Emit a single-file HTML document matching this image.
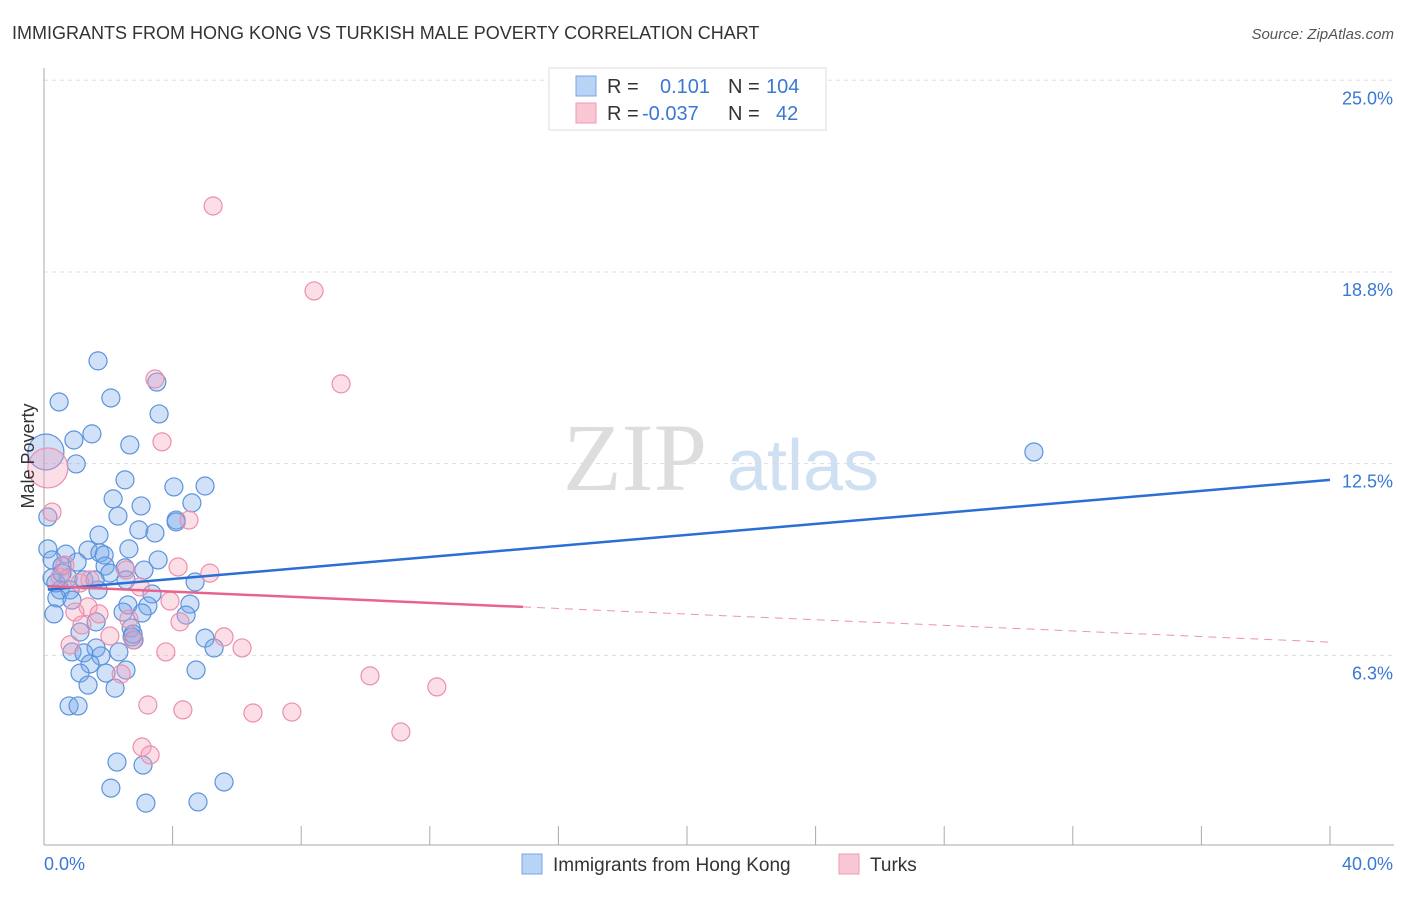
<!DOCTYPE html>
<html><head><meta charset="utf-8"><style>
body{margin:0;background:#fff;font-family:"Liberation Sans",sans-serif}
</style></head><body>
<svg width="1406" height="892" xmlns="http://www.w3.org/2000/svg" font-family="Liberation Sans, sans-serif">
<text x="12" y="39" font-size="18" fill="#333">IMMIGRANTS FROM HONG KONG VS TURKISH MALE POVERTY CORRELATION CHART</text>
<text x="1394" y="39" font-size="15" fill="#555" text-anchor="end" font-style="italic">Source: ZipAtlas.com</text>
<g>
<text x="635" y="490" font-size="96" fill="#ddd" text-anchor="middle" font-family="Liberation Serif, serif">ZIP</text>
<text x="803" y="490" font-size="72" fill="#cfe0f3" text-anchor="middle">atlas</text>
</g>
<g id="grid"></g>
<g id="axes"></g>
<g id="marks"></g>
<g id="trends"></g>
<text transform="translate(34,456) rotate(-90)" font-size="18" fill="#333" text-anchor="middle">Male Poverty</text>
<g>
<rect x="549" y="68" width="277" height="62" fill="#fff" stroke="#ddd"/>
<rect x="576" y="76" width="20" height="20" fill="#b7d3f6" stroke="#7aa6e0"/>
<rect x="576" y="103" width="20" height="20" fill="#f9c6d4" stroke="#ee9ab3"/>
<text y="93" font-size="20" fill="#333"><tspan x="607">R =</tspan><tspan x="660" fill="#3a78d4">0.101</tspan><tspan x="728">N =</tspan><tspan x="766" fill="#3a78d4">104</tspan></text>
<text y="120" font-size="20" fill="#333"><tspan x="607">R =</tspan><tspan x="642" fill="#3a78d4">-0.037</tspan><tspan x="728">N =</tspan><tspan x="776" fill="#3a78d4">42</tspan></text>
</g>
<g>
<rect x="522" y="854" width="20" height="20" fill="#b7d3f6" stroke="#7aa6e0"/>
<text x="553" y="871" font-size="19" fill="#333">Immigrants from Hong Kong</text>
<rect x="839" y="854" width="20" height="20" fill="#f9c6d4" stroke="#ee9ab3"/>
<text x="870" y="871" font-size="19" fill="#333">Turks</text>
</g>
</svg>
<script>
const yTicks=[6.25,12.5,18.75,25];
const yTickLabels=["6.3%","12.5%","18.8%","25.0%"];
const xTickLabels=["0.0%","40.0%"];
const blueX=[1.68,0.47,2.08,3.51,3.58,0.93,1.49,2.67,1.0,30.79,0.06,2.52,4.04,5.01,2.15,3.02,4.60,2.30,4.11,4.11,0.12,2.95,3.45,1.71,2.64,3.55,0.12,0.68,1.37,1.74,1.87,0.25,1.03,1.90,0.56,2.52,3.11,4.70,0.25,0.75,1.24,2.55,1.68,0.50,0.81,3.36,0.40,0.87,2.61,4.54,3.23,0.31,2.46,3.05,4.42,1.62,2.71,1.12,2.74,5.01,5.29,1.62,0.87,1.24,1.77,2.33,1.43,4.73,2.55,1.12,1.93,1.37,2.21,0.78,1.06,2.27,3.08,2.08,5.60,3.17,4.79,0.37,0.56,2.05,1.59,2.80,2.77];
const blueY=[15.85,14.51,14.64,15.16,14.12,13.27,13.47,13.11,12.49,12.88,12.88,11.97,11.74,11.77,11.35,11.12,11.22,10.79,10.66,10.60,10.76,10.34,10.24,10.17,9.72,9.36,9.72,9.55,9.68,9.59,9.52,9.36,9.29,9.16,9.16,9.10,9.03,8.64,8.77,8.77,8.71,8.71,8.38,8.38,8.38,8.25,8.12,8.05,7.89,7.92,7.86,7.60,7.66,7.63,7.56,7.34,7.14,7.01,6.85,6.81,6.49,6.49,6.36,6.33,6.23,6.36,5.97,5.77,5.77,5.67,5.67,5.28,5.18,4.60,4.60,2.77,2.67,1.92,2.12,1.43,1.47,8.61,8.93,8.93,8.71,6.75,6.94];
const pinkX=[5.26,8.40,9.24,3.45,3.67,0.12,0.25,4.51,4.17,5.16,2.55,1.43,1.12,0.50,0.65,2.99,3.92,1.37,1.71,0.96,4.23,2.64,2.05,2.77,5.60,6.16,0.81,1.18,3.79,10.14,12.22,3.23,4.32,6.50,7.71,11.10,3.05,3.30,2.40];
const pinkY=[20.90,18.13,15.10,15.26,13.21,12.36,10.92,10.66,9.13,8.93,9.03,8.71,8.61,8.80,9.19,8.48,8.02,7.83,7.60,7.66,7.34,7.43,6.88,6.75,6.85,6.49,6.59,7.24,6.36,5.58,5.22,4.63,4.47,4.37,4.40,3.75,3.26,3.00,5.64];
const blueTrend=[8.38,0.0898]; // intercept, slope
const pinkTrend=[8.51,-0.0458];
const pinkSolidEnd=14.9;
const NS="http://www.w3.org/2000/svg";
const X=v=>44+v*32.15, Y=v=>847-v*30.67;
function mk(tag,attrs,parent){const e=document.createElementNS(NS,tag);for(const k in attrs)e.setAttribute(k,attrs[k]);document.getElementById(parent).appendChild(e);return e;}
yTicks.forEach((t,i)=>{
 const l=mk('line',{x1:44,x2:1394,y1:Y(t),y2:Y(t),stroke:'#ddd','stroke-dasharray':'4,4'},'grid');
 
 
 const tx=mk('text',{x:1393,y:Y(t)+24,'font-size':18,fill:'#3a78d4','text-anchor':'end'},'grid');
 tx.textContent=yTickLabels[i];
 
 
});
let a=mk('line',{x1:44,x2:44,y1:68,y2:845,stroke:'#aaa'},'axes');


a=mk('line',{x1:44,x2:1394,y1:845,y2:845,stroke:'#aaa'},'axes');


for(let i=0;i<=10;i++){const t=mk('line',{x1:X(i*4),x2:X(i*4),y1:826,y2:845,stroke:'#aaa'},'axes');
 
 }
[[0,44,'start'],[40,1393,'end']].forEach((d,i)=>{const t=mk('text',{x:d[1],y:870,'font-size':18,fill:'#3a78d4','text-anchor':d[2]},'axes');t.textContent=xTickLabels[i];
 
 });
blueX.forEach((v,i)=>{const c=mk('circle',{cx:X(v),cy:Y(blueY[i]),r:i==10?18:9,fill:'rgba(120,170,235,0.35)',stroke:'#5b93dc','stroke-width':1.2},'marks');
 
 });
pinkX.forEach((v,i)=>{const c=mk('circle',{cx:X(v),cy:Y(pinkY[i]),r:i==5?20:9,fill:'rgba(245,160,185,0.35)',stroke:'#ec8fab','stroke-width':1.2},'marks');
 
 });
let t=mk('line',{x1:X(0.12),y1:Y(blueTrend[0]+blueTrend[1]*0.12),x2:X(40),y2:Y(blueTrend[0]+blueTrend[1]*40),stroke:'#2a6fd6','stroke-width':2.5},'trends');


t=mk('line',{x1:X(0.12),y1:Y(pinkTrend[0]+pinkTrend[1]*0.12),x2:X(pinkSolidEnd),y2:Y(pinkTrend[0]+pinkTrend[1]*pinkSolidEnd),stroke:'#e8648e','stroke-width':2.5},'trends');


t=mk('line',{x1:X(pinkSolidEnd),y1:Y(pinkTrend[0]+pinkTrend[1]*pinkSolidEnd),x2:X(40),y2:Y(pinkTrend[0]+pinkTrend[1]*40),stroke:'#e8648e','stroke-width':1,'stroke-dasharray':'8,6','opacity':0.7},'trends');


</script>
</body></html>
